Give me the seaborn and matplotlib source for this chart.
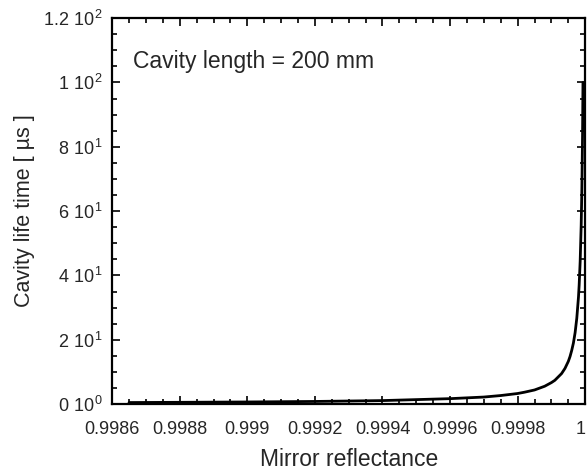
import matplotlib

matplotlib.use("Agg")
import matplotlib.pyplot as plt
import numpy as np
import pandas as pd
import seaborn as sns
from matplotlib.ticker import FixedLocator, MultipleLocator

# Values
reflectance = [
    0.99865, 0.9988, 0.999, 0.9992, 0.9994, 0.9996, 0.9997, 0.99975,
    0.9998, 0.99982, 0.99985, 0.99988, 0.9999, 0.99991, 0.99993, 0.99994,
    0.99995, 0.999955, 0.99996, 0.999965, 0.99997, 0.999975, 0.99998,
    0.999982, 0.999985, 0.999988, 0.99999, 0.999992, 0.9999933,
]
lifetime_us = [
    0.49, 0.56, 0.67, 0.83, 1.1, 1.7, 2.2, 2.67,
    3.3, 3.7, 4.4, 5.56, 6.7, 7.4, 9.5, 11.1,
    13.3, 14.8, 16.7, 19.0, 22.2, 26.7, 33.3,
    37.0, 44.4, 55.6, 66.7, 83.3, 100.0,
]

x_ticks = [0.9986, 0.9988, 0.999, 0.9992, 0.9994, 0.9996, 0.9998, 1.0]
x_tick_labels = ["0.9986", "0.9988", "0.999", "0.9992", "0.9994", "0.9996", "0.9998", "1"]
y_ticks = [0, 20, 40, 60, 80, 100, 120]
y_tick_labels = [
    r"$\mathregular{0\ 10^{0}}$",
    r"$\mathregular{2\ 10^{1}}$",
    r"$\mathregular{4\ 10^{1}}$",
    r"$\mathregular{6\ 10^{1}}$",
    r"$\mathregular{8\ 10^{1}}$",
    r"$\mathregular{1\ 10^{2}}$",
    r"$\mathregular{1.2\ 10^{2}}$",
]

sns.set_style("ticks")
plt.rcParams["font.family"] = ["Liberation Sans", "DejaVu Sans"]
plt.rcParams["mathtext.fontset"] = "custom"
plt.rcParams["mathtext.rm"] = "Liberation Sans"

df = pd.DataFrame({"R": reflectance, "tau": lifetime_us})

fig = plt.figure(figsize=(5.87, 4.76), dpi=100)
ax = fig.add_axes([0.191, 0.151, 0.806, 0.811])

sns.lineplot(data=df, x="R", y="tau", color="black", linewidth=2.0, ax=ax)

ax.set_xlim(0.9986, 1.0)
ax.set_ylim(0, 120)
ax.xaxis.set_major_locator(FixedLocator(x_ticks))
ax.set_xticklabels(x_tick_labels)
ax.xaxis.set_minor_locator(MultipleLocator(0.00005))
ax.yaxis.set_major_locator(FixedLocator(y_ticks))
ax.set_yticklabels(y_tick_labels)
ax.yaxis.set_minor_locator(MultipleLocator(5))

# the last label sits at the figure edge, keep it inside
ax.get_xticklabels()[-1].set_horizontalalignment("right")

ax.tick_params(which="both", direction="in", top=True, right=True,
               labelsize=13, width=1.2, color="black")
ax.tick_params(which="major", length=6)
ax.tick_params(which="minor", length=3.5)
ax.tick_params(axis="x", which="major", pad=12)
ax.tick_params(axis="y", which="major", pad=7)
for side in ax.spines.values():
    side.set_linewidth(1.6)
    side.set_color("black")

ax.set_xlabel("Mirror reflectance", fontsize=16.5, labelpad=7)
ax.set_ylabel("Cavity life time [ µs ]", fontsize=15.5, labelpad=6)
ax.text(0.044, 0.887, "Cavity length = 200 mm", transform=ax.transAxes,
        fontsize=16.5, va="center", ha="left")

fig.savefig("out.png", dpi=100)
